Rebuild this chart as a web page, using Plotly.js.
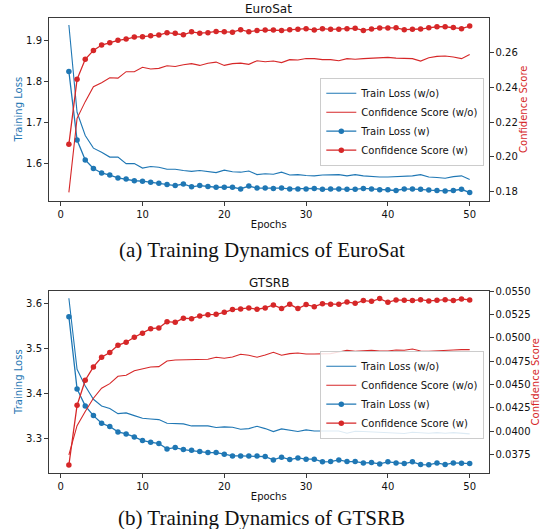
<!DOCTYPE html>
<html>
<head>
<meta charset="utf-8">
<script src="https://cdn.plot.ly/plotly-3.0.1.min.js"></script>
<style>html,body{margin:0;padding:0;background:#fff;}#chart{width:541px;height:529px;}</style>
</head>
<body>
<div id="chart"></div>
<script>
var epochs = [1,2,3,4,5,6,7,8,9,10,11,12,13,14,15,16,17,18,19,20,21,22,23,24,25,26,27,28,29,30,31,32,33,34,35,36,37,38,39,40,41,42,43,44,45,46,47,48,49,50];

var eurosatLossWo = [1.939,1.725,1.668,1.637,1.627,1.615,1.615,1.599,1.599,1.588,1.592,1.590,1.585,1.585,1.582,1.580,1.582,1.579,1.577,1.583,1.579,1.578,1.581,1.572,1.574,1.573,1.578,1.571,1.572,1.570,1.569,1.571,1.572,1.572,1.569,1.572,1.569,1.567,1.566,1.566,1.567,1.567,1.569,1.572,1.566,1.565,1.563,1.567,1.569,1.560];
var eurosatConfWo = [0.1796,0.2221,0.2317,0.2403,0.2426,0.2454,0.2452,0.2489,0.2489,0.2514,0.2504,0.2508,0.2523,0.2519,0.2529,0.2535,0.2525,0.2537,0.2544,0.2525,0.2535,0.2538,0.2531,0.2552,0.2546,0.2550,0.2541,0.2558,0.2556,0.2565,0.2564,0.2558,0.2558,0.2552,0.2564,0.2560,0.2564,0.2567,0.2569,0.2571,0.2567,0.2564,0.2564,0.2550,0.2569,0.2577,0.2579,0.2573,0.2564,0.2588];
var eurosatLossW = [1.825,1.657,1.608,1.587,1.576,1.571,1.564,1.561,1.557,1.556,1.553,1.551,1.548,1.545,1.549,1.542,1.545,1.543,1.541,1.541,1.541,1.537,1.544,1.539,1.539,1.538,1.539,1.537,1.537,1.537,1.538,1.536,1.537,1.537,1.536,1.536,1.538,1.537,1.535,1.535,1.533,1.537,1.537,1.536,1.534,1.533,1.532,1.533,1.536,1.528];
var eurosatConfW = [0.2072,0.2445,0.2560,0.2611,0.2642,0.2655,0.2669,0.2676,0.2688,0.2690,0.2695,0.2699,0.2713,0.2709,0.2701,0.2718,0.2710,0.2713,0.2720,0.2718,0.2716,0.2730,0.2718,0.2726,0.2728,0.2728,0.2726,0.2730,0.2732,0.2736,0.2728,0.2736,0.2732,0.2732,0.2736,0.2738,0.2726,0.2734,0.2740,0.2740,0.2741,0.2730,0.2732,0.2734,0.2741,0.2747,0.2747,0.2743,0.2736,0.2751];

var gtsrbLossWo = [3.612,3.4535,3.416,3.3865,3.3717,3.3657,3.3545,3.356,3.350,3.344,3.3426,3.3411,3.333,3.3315,3.3315,3.327,3.3278,3.327,3.3233,3.3248,3.324,3.3196,3.321,3.3263,3.321,3.3144,3.3203,3.3181,3.3144,3.3181,3.3158,3.3158,3.3151,3.3158,3.3106,3.3151,3.3144,3.3136,3.3136,3.3114,3.3114,3.3099,3.3129,3.3121,3.3106,3.3121,3.3106,3.3121,3.3106,3.3092];
var gtsrbConfWo = [0.03744,0.04058,0.04209,0.04352,0.04459,0.04509,0.04588,0.04598,0.04648,0.04670,0.04688,0.04691,0.04752,0.04763,0.04766,0.04770,0.04770,0.04770,0.04792,0.04781,0.04795,0.04824,0.04813,0.04792,0.04817,0.04845,0.04813,0.04831,0.04838,0.04827,0.04827,0.04827,0.04831,0.04849,0.04867,0.04856,0.04859,0.04867,0.04859,0.04859,0.04870,0.04867,0.04881,0.04859,0.04856,0.04859,0.04859,0.04870,0.04874,0.04874];
var gtsrbLossW = [3.571,3.4096,3.3717,3.350,3.333,3.3255,3.3136,3.3092,3.3025,3.2943,3.2906,3.2876,3.2757,3.2786,3.2742,3.2727,3.2697,3.2675,3.2675,3.2638,3.260,3.260,3.260,3.260,3.2585,3.2511,3.2571,3.2519,3.2556,3.2526,3.2526,3.2467,3.2474,3.2511,3.2474,3.2474,3.2444,3.2452,3.2422,3.2467,3.2444,3.2429,3.2467,3.2407,3.240,3.2444,3.2407,3.2444,3.2437,3.2429];
var gtsrbConfW = [0.03636,0.04276,0.04545,0.04688,0.04792,0.04842,0.04920,0.04953,0.05006,0.05049,0.05099,0.05106,0.05174,0.05167,0.05210,0.05206,0.05235,0.05249,0.05253,0.05274,0.05303,0.05310,0.05321,0.05307,0.05321,0.05353,0.05314,0.05360,0.05314,0.05357,0.05335,0.05367,0.05360,0.05360,0.05385,0.05371,0.05400,0.05392,0.05421,0.05382,0.05407,0.05403,0.05400,0.05410,0.05396,0.05403,0.05410,0.05400,0.05417,0.05407];

var seriesNames = ['Train Loss (w/o)','Confidence Score (w/o)','Train Loss (w)','Confidence Score (w)'];
var subplotTitles = ['EuroSat','GTSRB'];
var captions = ['(a) Training Dynamics of EuroSat','(b) Training Dynamics of GTSRB'];
var xTicks = [0,10,20,30,40,50];
var topLossTicks = [1.6,1.7,1.8,1.9];
var topConfTicks = [0.18,0.20,0.22,0.24,0.26];
var botLossTicks = [3.3,3.4,3.5,3.6];
var botConfTicks = [0.0375,0.0400,0.0425,0.0450,0.0475,0.0500,0.0525,0.0550];

var BLUE = '#1f77b4', RED = '#d62728';
var W = 541, H = 529;
function px(x){return x/W;}
function py(y){return 1 - y/H;}

function mk(x, y, name, color, withMarker, xa, ya, leg){
  return {
    x: x, y: y, name: name, type: 'scatter',
    mode: withMarker ? 'lines+markers' : 'lines',
    line: {color: color, width: withMarker ? 1.3 : 1.1},
    marker: {color: color, size: 5.5},
    xaxis: xa, yaxis: ya, legend: leg, showlegend: true
  };
}

var data = [
  mk(epochs, eurosatLossWo, seriesNames[0], BLUE, false, 'x', 'y', 'legend'),
  mk(epochs, eurosatConfWo, seriesNames[1], RED, false, 'x', 'y2', 'legend'),
  mk(epochs, eurosatLossW, seriesNames[2], BLUE, true, 'x', 'y', 'legend'),
  mk(epochs, eurosatConfW, seriesNames[3], RED, true, 'x', 'y2', 'legend'),
  mk(epochs, gtsrbLossWo, seriesNames[0], BLUE, false, 'x2', 'y3', 'legend2'),
  mk(epochs, gtsrbConfWo, seriesNames[1], RED, false, 'x2', 'y4', 'legend2'),
  mk(epochs, gtsrbLossW, seriesNames[2], BLUE, true, 'x2', 'y3', 'legend2'),
  mk(epochs, gtsrbConfW, seriesNames[3], RED, true, 'x2', 'y4', 'legend2')
];

var FONT = 'DejaVu Sans, sans-serif';
var tickFont = {family: FONT, size: 10, color: '#111'};
var lineCol = '#3a3a3a';

function xax(anchor){
  return {
    domain: [px(49), px(488.5)], anchor: anchor, range: [-1.43, 52.3],
    tickvals: xTicks, ticks: 'outside', ticklen: 4, tickcolor: lineCol, tickwidth: 1,
    showline: true, linecolor: lineCol, linewidth: 1, mirror: true,
    showgrid: false, zeroline: false, tickfont: tickFont,
    title: {text: 'Epochs', font: {family: FONT, size: 10, color: '#111'}, standoff: 2}
  };
}
function yaxL(domain, anchor, range, ticks, fmt){
  return {
    domain: domain, anchor: anchor, range: range, tickvals: ticks, tickformat: fmt,
    ticks: 'outside', ticklen: 4, tickcolor: lineCol, tickwidth: 1,
    showline: true, linecolor: lineCol, linewidth: 1, mirror: true,
    showgrid: false, zeroline: false, tickfont: tickFont,
    title: {text: 'Training Loss', font: {family: FONT, size: 10, color: BLUE}, standoff: 1}
  };
}
function yaxR(overlay, anchor, range, ticks, fmt){
  return {
    overlaying: overlay, side: 'right', anchor: anchor, range: range, tickvals: ticks, tickformat: fmt,
    ticks: 'outside', ticklen: 4, tickcolor: lineCol, tickwidth: 1,
    showline: false, showgrid: false, zeroline: false, tickfont: tickFont,
    title: {text: 'Confidence Score', font: {family: FONT, size: 10, color: RED}, standoff: 3}
  };
}

var legendBase = {
  font: {family: FONT, size: 10, color: '#111'},
  bgcolor: 'rgba(255,255,255,0.85)', bordercolor: '#cccccc', borderwidth: 1,
  xanchor: 'right', yanchor: 'top', x: px(484.3), tracegroupgap: 0, itemwidth: 30
};
var leg1 = Object.assign({}, legendBase, {y: py(77.7)});
var leg2 = Object.assign({}, legendBase, {y: py(350.7)});

var layout = {
  width: W, height: H,
  margin: {l: 0, r: 0, t: 0, b: 0, autoexpand: false},
  paper_bgcolor: '#fff', plot_bgcolor: '#fff',
  showlegend: true,
  xaxis: xax('y'),
  yaxis: yaxL([py(200.7), py(17.7)], 'x', [1.508, 1.957], topLossTicks, '.1f'),
  yaxis2: yaxR('y', 'x', [0.1748, 0.2799], topConfTicks, '.2f'),
  xaxis2: xax('y3'),
  yaxis3: yaxL([py(472.7), py(290.7)], 'x2', [3.2225, 3.629], botLossTicks, '.1f'),
  yaxis4: yaxR('y3', 'x2', [0.03553, 0.05506], botConfTicks, '.4f'),
  legend: leg1,
  legend2: leg2,
  annotations: [
    {text: subplotTitles[0], xref: 'paper', yref: 'paper', x: px(268.5), y: py(9.5), xanchor: 'center', yanchor: 'middle', showarrow: false, font: {family: FONT, size: 12, color: '#111'}},
    {text: subplotTitles[1], xref: 'paper', yref: 'paper', x: px(268.5), y: py(282.5), xanchor: 'center', yanchor: 'middle', showarrow: false, font: {family: FONT, size: 12, color: '#111'}},
    {text: captions[0], xref: 'paper', yref: 'paper', x: px(261.5), y: py(250), xanchor: 'center', yanchor: 'middle', showarrow: false, font: {family: 'Liberation Serif, Times New Roman, serif', size: 21, color: '#111'}},
    {text: captions[1], xref: 'paper', yref: 'paper', x: px(261.5), y: py(518), xanchor: 'center', yanchor: 'middle', showarrow: false, font: {family: 'Liberation Serif, Times New Roman, serif', size: 21, color: '#111'}}
  ]
};

Plotly.newPlot('chart', data, layout, {displayModeBar: false, staticPlot: true});
</script>
</body>
</html>
